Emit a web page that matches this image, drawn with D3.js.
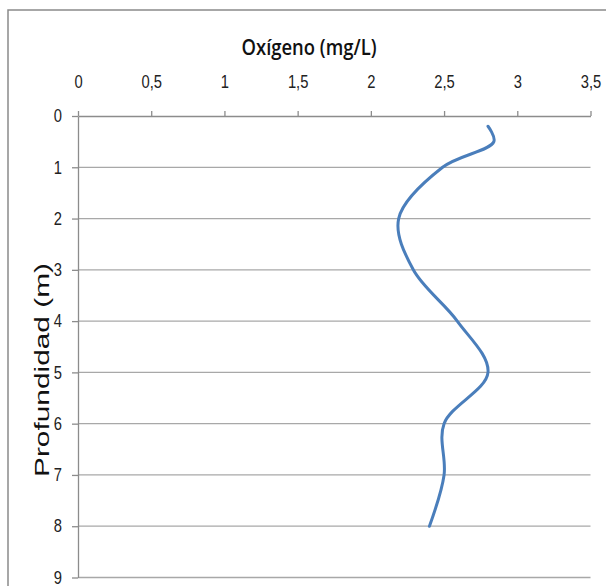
<!DOCTYPE html>
<html>
<head>
<meta charset="utf-8">
<script src="https://cdn.jsdelivr.net/npm/d3@7"></script>
<style>
  body { margin: 0; background: #fff; }
  svg { display: block; }
</style>
</head>
<body>
<div id="graph"></div>
<script>
// datos
var profundidad = [0.2, 0.5, 1, 2, 3, 4, 5, 6, 7, 8];
var oxigeno = [2.8, 2.84, 2.49, 2.19, 2.29, 2.59, 2.8, 2.5, 2.5, 2.4];
var xTicks = [0, 0.5, 1, 1.5, 2, 2.5, 3, 3.5];
var yTicks = [0, 1, 2, 3, 4, 5, 6, 7, 8, 9];

var W = 606, H = 586;
var plot = {left: 78, right: 590.5, top: 116, bottom: 577.5};

var svg = d3.select("#graph").append("svg")
    .attr("width", W)
    .attr("height", H);

// borde del area del grafico
svg.append("rect")
    .attr("x", 8).attr("y", 10)
    .attr("width", W + 10).attr("height", H + 10)
    .attr("fill", "#fff")
    .attr("stroke", "#8a8a8a")
    .attr("stroke-width", 1.5);

var x = d3.scaleLinear().domain([0, 3.5]).range([plot.left, plot.right]);
var y = d3.scaleLinear().domain([0, 9]).range([plot.top, plot.bottom]);

var fmt = function(d) { return String(d).replace(".", ","); };
var sx = 0.82;

// lineas de cuadricula
svg.append("g")
    .selectAll("line")
    .data(yTicks.slice(1))
    .enter().append("line")
    .attr("x1", plot.left).attr("x2", plot.right)
    .attr("y1", function(d) { return y(d); })
    .attr("y2", function(d) { return y(d); })
    .attr("stroke", "#a8a8a8")
    .attr("stroke-width", 1.3);

var xAxis = d3.axisTop(x).tickValues(xTicks).tickFormat(fmt)
    .tickSizeInner(5).tickSizeOuter(0).tickPadding(23);
var yAxis = d3.axisLeft(y).tickValues(yTicks).tickFormat(fmt)
    .tickSizeInner(6).tickSizeOuter(0).tickPadding(10);

var gx = svg.append("g")
    .attr("transform", "translate(0," + plot.top + ")")
    .call(xAxis);
var gy = svg.append("g")
    .attr("transform", "translate(" + plot.left + ",0)")
    .call(yAxis);

[gx, gy].forEach(function(g) {
    g.selectAll("path, line").attr("stroke", "#8c8c8c").attr("stroke-width", 1.3);
    g.selectAll("text")
        .style("font-family", "'Liberation Sans', Arial, sans-serif")
        .style("font-size", "18px")
        .attr("fill", "#222");
});
gx.selectAll("text").attr("transform", "scale(" + sx + ",1)");
gy.selectAll("text")
    .attr("x", -16 / sx)
    .attr("transform", "scale(" + sx + ",1)");

// titulo
svg.append("text")
    .attr("x", 309).attr("y", 55)
    .attr("text-anchor", "middle")
    .attr("textLength", 135)
    .attr("lengthAdjust", "spacingAndGlyphs")
    .style("font-family", "'Open Sans', sans-serif")
    .style("font-weight", "600")
    .style("font-size", "21px")
    .attr("fill", "#111")
    .text("Oxígeno (mg/L)");

// titulo eje y
svg.append("text")
    .attr("transform", "translate(49,370) rotate(-90)")
    .attr("text-anchor", "middle")
    .attr("textLength", 214)
    .attr("lengthAdjust", "spacingAndGlyphs")
    .style("font-family", "'Liberation Sans', Arial, sans-serif")
    .style("font-size", "20px")
    .attr("fill", "#111")
    .text("Profundidad (m)");

// curva
var puntos = profundidad.map(function(d, i) { return [oxigeno[i], d]; });
var line = d3.line()
    .x(function(d) { return x(d[0]); })
    .y(function(d) { return y(d[1]); })
    .curve(d3.curveCatmullRom.alpha(0.5));

svg.append("path")
    .datum(puntos)
    .attr("d", line)
    .attr("fill", "none")
    .attr("stroke", "#4a7ebb")
    .attr("stroke-width", 3)
    .attr("stroke-linecap", "round");
</script>
</body>
</html>
